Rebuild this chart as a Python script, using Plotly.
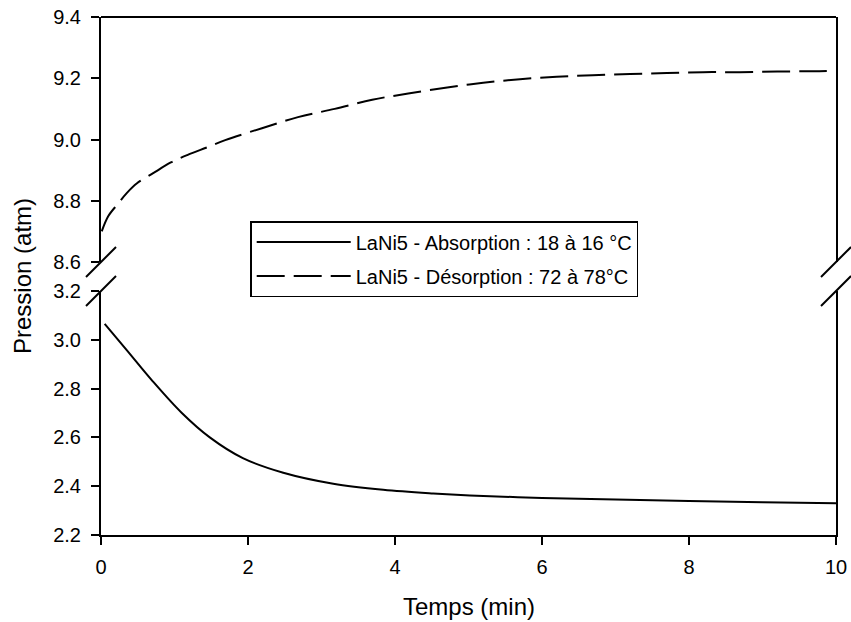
import plotly.graph_objects as go

# Desorption (upper panel)
t_des = [0.01, 0.1, 0.23, 0.35, 0.49, 0.71, 0.95, 1.18, 1.45, 1.69, 2.19, 2.68, 3.18,
         3.69, 4.18, 4.71, 5.2, 5.7, 6.2, 6.69, 7.2, 7.7, 8.19, 8.69, 9.2, 9.69, 10.0]
p_des = [8.70, 8.75, 8.79, 8.825, 8.857, 8.89, 8.925, 8.95, 8.975, 8.998, 9.037, 9.073, 9.10,
         9.13, 9.15, 9.17, 9.185, 9.197, 9.205, 9.21, 9.214, 9.217, 9.22, 9.22, 9.222, 9.223, 9.225]

# Absorption (lower panel)
t_abs = [0.05, 0.35, 0.69, 1.10, 1.48, 1.93, 2.48, 3.16, 3.84, 4.52, 5.02, 6.0, 7.0, 8.0, 9.0, 10.0]
p_abs = [3.065, 2.958, 2.835, 2.70, 2.60, 2.515, 2.455, 2.41, 2.385, 2.37, 2.362, 2.352,
         2.345, 2.339, 2.334, 2.33]

x_ticks = [0, 2, 4, 6, 8, 10]
upper_ticks = [8.6, 8.8, 9.0, 9.2, 9.4]
lower_ticks = [2.2, 2.4, 2.6, 2.8, 3.0, 3.2]

name_abs = "LaNi5 - Absorption : 18 à 16 °C"
name_des = "LaNi5 - Désorption : 72 à 78°C"

FONT = "Arial, Liberation Sans, sans-serif"

fig = go.Figure()
fig.add_trace(go.Scatter(x=t_abs, y=p_abs, mode="lines", name=name_abs, yaxis="y",
                         legendgroup="a", line=dict(color="black", width=2, shape="spline")))
fig.add_trace(go.Scatter(x=t_des, y=p_des, mode="lines", name=name_des, yaxis="y2",
                         legendgroup="b", line=dict(color="black", width=2, dash="28px,9px", shape="spline")))

low_top = 0.471
up_bot = 0.527

axis_common = dict(showline=True, linecolor="black", linewidth=2, ticks="outside",
                   ticklen=8, tickwidth=1.5, tickcolor="black", showgrid=False,
                   zeroline=False, tickfont=dict(size=20, color="black", family=FONT),
                   tickformat=".1f", mirror=True, automargin=False, ticklabelstandoff=6)

fig.update_layout(
    width=851, height=622,
    margin=dict(l=101, r=15, t=17, b=87),
    paper_bgcolor="white", plot_bgcolor="white",
    font=dict(family=FONT, color="black"),
    xaxis=dict(range=[0, 10], tickvals=x_ticks, showline=True, linecolor="black", linewidth=2,
               ticks="outside", ticklen=8, tickwidth=1.5, tickcolor="black", showgrid=False,
               zeroline=False, anchor="y", automargin=False, ticklabelstandoff=5,
               tickfont=dict(size=20, color="black", family=FONT)),
    yaxis=dict(domain=[0, low_top], range=[2.2, 3.2], tickvals=lower_ticks, **axis_common),
    yaxis2=dict(domain=[up_bot, 1], range=[8.6, 9.4], tickvals=upper_ticks, anchor="x", **axis_common),
    showlegend=True,
    legend=dict(x=0.203, y=0.606, xanchor="left", yanchor="top", bordercolor="black",
                borderwidth=1.5, bgcolor="white", font=dict(size=20, color="black", family=FONT),
                traceorder="grouped", tracegroupgap=5, itemwidth=94),
)

# top border
fig.add_shape(type="line", xref="paper", yref="paper", x0=0, x1=1, y0=1, y1=1,
              line=dict(color="black", width=2))

# axis titles
fig.add_annotation(text="Pression (atm)", xref="paper", yref="paper", x=0, y=0.5,
                   xanchor="center", yanchor="middle", xshift=-79, textangle=-90,
                   showarrow=False, font=dict(size=24, color="black", family=FONT))
fig.add_annotation(text="Temps (min)", xref="paper", yref="paper", x=0.5, y=0,
                   xanchor="center", yanchor="middle", yshift=-71,
                   showarrow=False, font=dict(size=24, color="black", family=FONT))

# break marks
for xa in [0, 1]:
    for ya in [low_top, up_bot]:
        fig.add_shape(type="line", xref="paper", yref="paper",
                      xsizemode="pixel", ysizemode="pixel", xanchor=xa, yanchor=ya,
                      x0=-15, x1=15, y0=-15, y1=15, line=dict(color="black", width=2))

fig.write_html("out.html")
